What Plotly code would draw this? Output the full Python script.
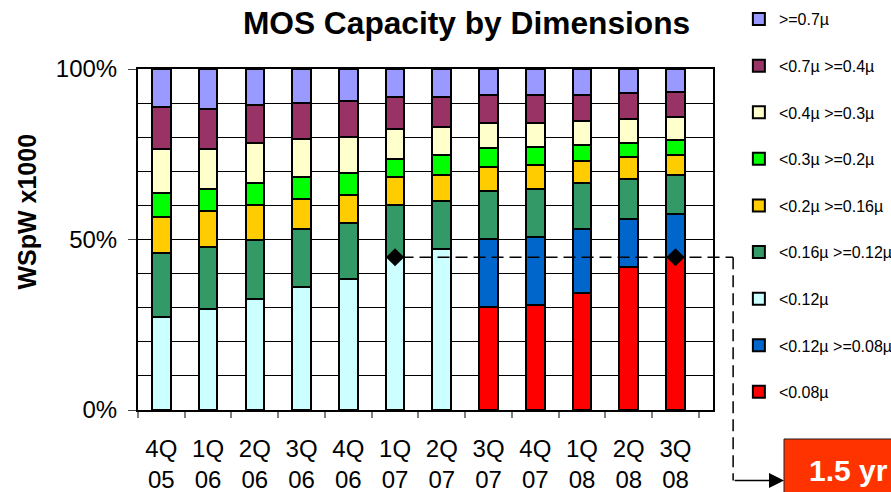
import plotly.graph_objects as go

# ---- data ----
categories = ["4Q<br>05", "1Q<br>06", "2Q<br>06", "3Q<br>06", "4Q<br>06", "1Q<br>07",
              "2Q<br>07", "3Q<br>07", "4Q<br>07", "1Q<br>08", "2Q<br>08", "3Q<br>08"]

s_lt008 = [None, None, None, None, None, None, None, 30.2, 30.8, 34.4, 41.9, 44.8]
s_012_008 = [None, None, None, None, None, None, None, 20.0, 20.0, 18.7, 14.2, 12.6]
s_lt012 = [27.4, 29.5, 32.6, 36.1, 38.5, 44.8, 47.2, None, None, None, None, None]
s_016_012 = [18.5, 18.3, 17.4, 17.0, 16.3, 15.4, 14.0, 14.1, 14.0, 13.5, 11.7, 11.5]
s_02_016 = [10.6, 10.6, 10.1, 8.7, 8.3, 8.2, 7.7, 7.1, 7.0, 6.3, 6.4, 5.9]
s_03_02 = [7.0, 6.3, 6.5, 6.5, 6.5, 5.1, 5.9, 5.3, 5.3, 4.8, 4.2, 4.3]
s_04_03 = [13.1, 11.9, 11.6, 11.3, 10.6, 8.8, 8.2, 7.6, 7.2, 7.1, 7.0, 6.9]
s_07_04 = [12.4, 11.8, 11.3, 10.5, 10.5, 9.6, 8.9, 8.2, 8.2, 7.7, 7.7, 7.2]
s_ge07 = [11.0, 11.6, 10.5, 9.9, 9.3, 8.1, 8.1, 7.5, 7.5, 7.5, 6.9, 6.8]

series_names = ["<0.08µ", "<0.12µ >=0.08µ", "<0.12µ", "<0.16µ >=0.12µ", "<0.2µ >=0.16µ",
                "<0.3µ >=0.2µ", "<0.4µ >=0.3µ", "<0.7µ >=0.4µ", ">=0.7µ"]
series_values = [s_lt008, s_012_008, s_lt012, s_016_012, s_02_016, s_03_02, s_04_03, s_07_04, s_ge07]
series_colors = ["#FF0000", "#0066CC", "#CCFFFF", "#339966", "#FFCC00",
                 "#00FF00", "#FFFFCC", "#993366", "#9999FF"]

marker_x = ["1Q<br>07", "3Q<br>08"]
marker_y = [44.8, 44.8]

ytick_vals = [0, 50, 100]
ytick_text = ["0%", "50%", "100%"]

FONT = "Arial, Liberation Sans, sans-serif"

fig = go.Figure()
for i, (name, vals, col) in enumerate(zip(series_names, series_values, series_colors)):
    fig.add_trace(go.Bar(
        x=categories, y=vals, name=name, legendgroup=name, legendrank=1000 - i,
        marker=dict(color=col, line=dict(color="black", width=2)),
        width=0.4,
    ))

fig.add_trace(go.Scatter(
    x=marker_x, y=marker_y, mode="markers", showlegend=False,
    marker=dict(symbol="diamond", size=14, color="black"), cliponaxis=False,
))

# dashed connector
x_start = (categories.index(marker_x[0]) + 0.5) / len(categories)
y_line = marker_y[0] / 100.0
x_turn = 1.035
y_bottom = -0.207
dash_style = dict(color="black", width=1.5, dash="12px,6px")
fig.add_shape(type="line", xref="paper", yref="paper", x0=x_start, x1=x_turn,
              y0=y_line, y1=y_line, line=dash_style, layer="above")
fig.add_shape(type="line", xref="paper", yref="paper", x0=x_turn, x1=x_turn,
              y0=y_line, y1=y_bottom, line=dash_style, layer="above")

# red box
box_left = 1.1235
fig.add_shape(type="rect", xref="paper", yref="paper", x0=box_left, x1=1.4,
              y0=-0.085, y1=-0.26, fillcolor="#FF3300", line=dict(color="#222222", width=1),
              layer="above")
fig.add_annotation(xref="paper", yref="paper", x=box_left, y=y_bottom,
                   ax=-(box_left - x_turn) * 575, ay=0, axref="pixel", ayref="pixel",
                   showarrow=True, arrowhead=2, arrowsize=2, arrowwidth=1.5,
                   arrowcolor="black", text="")
fig.add_annotation(xref="paper", yref="paper", x=1.2357, y=-0.176, text="<b>1.5 yr</b>",
                   showarrow=False, xanchor="center", yanchor="middle",
                   font=dict(family=FONT, size=30, color="white"))

# y axis title
fig.add_annotation(xref="paper", yref="paper", x=-0.193, y=0.582, text="<b>WSpW x1000</b>",
                   textangle=-90, showarrow=False, xanchor="center", yanchor="middle",
                   font=dict(family=FONT, size=25, color="black"))

fig.update_layout(
    width=891, height=492,
    margin=dict(l=138, r=178, t=69, b=82, autoexpand=False),
    barmode="stack",
    paper_bgcolor="white", plot_bgcolor="white",
    font=dict(family=FONT, color="black"),
    title=dict(text="<b>MOS Capacity by Dimensions</b>", x=0.5236, xanchor="center",
               y=0.953, yanchor="middle", xref="container", yref="container",
               font=dict(family=FONT, size=31.7, color="black")),
    legend=dict(x=1.045, xanchor="left", y=1.196, yanchor="top",
                traceorder="grouped", tracegroupgap=22.8, maxheight=492,
                font=dict(family=FONT, size=16, color="black"),
                bgcolor="rgba(0,0,0,0)", itemclick=False),
    showlegend=True,
)

fig.update_xaxes(
    type="category", tickson="boundaries", ticks="outside", ticklen=6, tickcolor="#808080",
    tickwidth=1.5, showline=True, linecolor="black", linewidth=2, mirror=True,
    showgrid=False, tickfont=dict(family=FONT, size=24, color="black"),
    ticklabelstandoff=16,
)
fig.update_yaxes(
    range=[0, 100], tickvals=ytick_vals, ticktext=ytick_text, ticks="outside", ticklen=8,
    tickcolor="#404040", showline=True, linecolor="black", linewidth=2, mirror=True,
    showgrid=True, gridcolor="black", gridwidth=1,
    minor=dict(dtick=10, showgrid=True, gridcolor="black", gridwidth=1, ticks=""),
    tickfont=dict(family=FONT, size=24, color="black"), ticklabelstandoff=6,
    zeroline=False,
)

fig.write_html("out.html", config={"displayModeBar": False},
               post_script="document.body.style.margin='0';")
